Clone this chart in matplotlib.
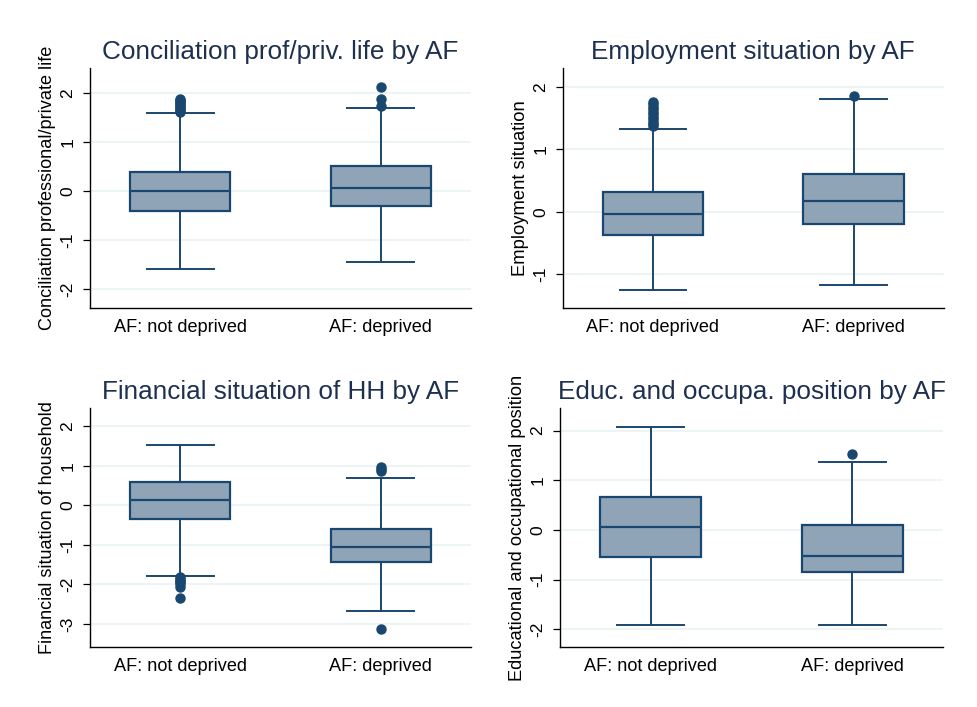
import matplotlib
matplotlib.use("Agg")
import matplotlib.pyplot as plt

plt.rcParams['font.family'] = ['Liberation Sans', 'DejaVu Sans']

categories = ["AF: not deprived", "AF: deprived"]

titles = ["Conciliation prof/priv. life by AF",
          "Employment situation by AF",
          "Financial situation of HH by AF",
          "Educ. and occupa. position by AF"]
ylabels = ["Conciliation professional/private life",
           "Employment situation",
           "Financial situation of household",
           "Educational and occupational position"]

# per panel: [not deprived, deprived] -> (whislo, q1, med, q3, whishi)
concil_stats = [(-1.59, -0.42, -0.01, 0.38, 1.58), (-1.46, -0.31, 0.05, 0.51, 1.70)]
concil_fliers = [[1.62, 1.65, 1.68, 1.71, 1.74, 1.77, 1.80, 1.83, 1.86, 1.87],
                 [1.73, 1.87, 2.12]]
employ_stats = [(-1.25, -0.37, -0.03, 0.32, 1.33), (-1.17, -0.20, 0.17, 0.61, 1.81)]
employ_fliers = [[1.37, 1.40, 1.44, 1.48, 1.52, 1.56, 1.60, 1.64, 1.68, 1.72, 1.76],
                 [1.85]]
finan_stats = [(-1.78, -0.35, 0.14, 0.59, 1.53), (-2.67, -1.44, -1.04, -0.60, 0.69)]
finan_fliers = [[-1.80, -1.85, -1.90, -1.95, -2.00, -2.06, -2.35],
                [0.88, 0.93, 0.98, -3.13]]
educ_stats = [(-1.92, -0.55, 0.06, 0.67, 2.08), (-1.92, -0.84, -0.53, 0.10, 1.36)]
educ_fliers = [[], [1.52]]

stats_all = [concil_stats, employ_stats, finan_stats, educ_stats]
fliers_all = [concil_fliers, employ_fliers, finan_fliers, educ_fliers]
yticks_all = [[-2, -1, 0, 1, 2], [-1, 0, 1, 2], [-3, -2, -1, 0, 1, 2], [-2, -1, 0, 1, 2]]
ylims = [(-2.39, 2.51), (-1.54, 2.30), (-3.59, 2.47), (-2.36, 2.46)]

axes_rects = [(0.092, 0.5644, 0.3896, 0.3395),
              (0.5753, 0.5644, 0.3899, 0.3395),
              (0.092, 0.0844, 0.3896, 0.3389),
              (0.5723, 0.0844, 0.3922, 0.3389)]
# target on-screen length (px) of each y-axis title
ylabel_len_px = [283, 175, 252, 305]

navy = "#1a476f"
fill = "#90a4b8"
title_col = "#1e3050"
grid_col = "#eaf2f3"

fig = plt.figure(figsize=(9.78, 7.07), dpi=100)
ylabel_objs = []
for i in range(4):
    ax = fig.add_axes(axes_rects[i])
    bstats = []
    for j in range(2):
        lo, q1, med, q3, hi = stats_all[i][j]
        bstats.append(dict(whislo=lo, q1=q1, med=med, q3=q3, whishi=hi,
                           fliers=fliers_all[i][j], label=categories[j]))
    ax.bxp(bstats, positions=[1, 2], widths=0.5, patch_artist=True,
           showcaps=True,
           boxprops=dict(facecolor=fill, edgecolor=navy, linewidth=1.6),
           medianprops=dict(color=navy, linewidth=1.6),
           whiskerprops=dict(color=navy, linewidth=1.4),
           capprops=dict(color=navy, linewidth=1.4),
           capwidths=0.333,
           flierprops=dict(marker='o', markerfacecolor=navy, markeredgecolor=navy,
                           markersize=6.5, linestyle='none'))
    ax.set_xlim(0.55, 2.45)
    ax.set_ylim(*ylims[i])
    ax.set_yticks(yticks_all[i])
    ax.set_yticklabels([str(t) for t in yticks_all[i]], rotation=90, va='center', fontsize=12.5)
    ax.tick_params(axis='x', length=0, labelsize=13.1, pad=8)
    ax.tick_params(axis='y', length=5.4, width=0.9, pad=5)
    for y in yticks_all[i]:
        ax.axhline(y, color=grid_col, linewidth=1.2, zorder=0)
    ax.spines['top'].set_visible(False)
    ax.spines['right'].set_visible(False)
    ax.spines['left'].set_linewidth(1.0)
    ax.spines['bottom'].set_linewidth(1.0)
    ax.set_title(titles[i], fontsize=18.8, color=title_col, pad=6.5)
    lab = ax.set_ylabel(ylabels[i], fontsize=12.8, labelpad=3)
    ylabel_objs.append(lab)

# fit y-axis title sizes to the reference lengths
fig.canvas.draw()
renderer = fig.canvas.get_renderer()
for lab, target in zip(ylabel_objs, ylabel_len_px):
    ext = lab.get_window_extent(renderer)
    if ext.height > 0:
        lab.set_fontsize(lab.get_fontsize() * target / ext.height)

fig.savefig("out.png", dpi=100)
